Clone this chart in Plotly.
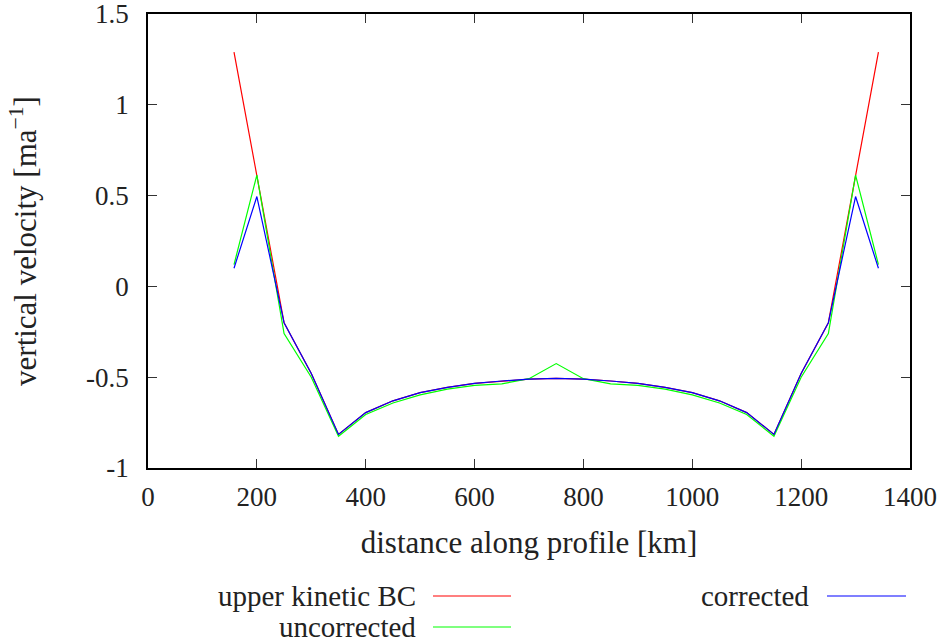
import plotly.graph_objects as go

# ---- data ----
distance_km = [158, 200, 250, 300, 350, 400, 450, 500, 550, 600, 650, 700, 750,
               800, 850, 900, 950, 1000, 1050, 1100, 1150, 1200, 1250, 1300, 1342]
upper_kinetic_bc = [1.29, 0.60, -0.20, -0.48, -0.815, -0.695, -0.63, -0.585, -0.556, -0.534, -0.521, -0.511, -0.507,
                    -0.511, -0.521, -0.534, -0.556, -0.585, -0.63, -0.695, -0.815, -0.48, -0.20, 0.60, 1.29]
uncorrected = [0.12, 0.613, -0.26, -0.50, -0.825, -0.705, -0.642, -0.597, -0.566, -0.545, -0.537, -0.508, -0.425,
               -0.508, -0.537, -0.545, -0.566, -0.597, -0.642, -0.705, -0.825, -0.50, -0.26, 0.613, 0.12]
corrected = [0.10, 0.495, -0.20, -0.48, -0.815, -0.695, -0.63, -0.585, -0.556, -0.534, -0.521, -0.511, -0.507,
             -0.511, -0.521, -0.534, -0.556, -0.585, -0.63, -0.695, -0.815, -0.48, -0.20, 0.495, 0.10]

x_ticks = [0, 200, 400, 600, 800, 1000, 1200, 1400]
x_tick_labels = ["0", "200", "400", "600", "800", "1000", "1200", "1400"]
y_ticks = [-1, -0.5, 0, 0.5, 1, 1.5]
y_tick_labels = ["-1", "-0.5", "0", "0.5", "1", "1.5"]

series = [
    ("upper kinetic BC", upper_kinetic_bc, "#ff0000"),
    ("uncorrected", uncorrected, "#00ff00"),
    ("corrected", corrected, "#0000ff"),
]

FONT = "Liberation Serif, DejaVu Serif, serif"
FS_TICK = 27
FS_TEXT = 31
FS_LEG = 29
TXT = "#222"

fig = go.Figure()
for name, vals, col in series:
    fig.add_trace(go.Scatter(x=distance_km, y=vals, mode="lines", name=name,
                             line=dict(color=col, width=1.2), showlegend=False))

axis_common = dict(showgrid=False, zeroline=False, showline=True, linecolor="black", linewidth=1.5,
                   mirror="allticks", ticks="inside", ticklen=9, tickwidth=1.2, tickcolor="#333",
                   tickfont=dict(family=FONT, size=FS_TICK, color=TXT), ticklabeloverflow="allow")
fig.update_xaxes(range=[0, 1400], tickvals=x_ticks, ticktext=x_tick_labels, ticklabelstandoff=4,
                 title=dict(text="distance along profile [km]", font=dict(family=FONT, size=FS_TEXT, color=TXT), standoff=20),
                 **axis_common)
fig.update_yaxes(range=[-1, 1.5], tickvals=y_ticks, ticktext=y_tick_labels, ticklabelstandoff=12,
                 title=dict(text="vertical velocity [ma<sup>−1</sup>]", font=dict(family=FONT, size=FS_TEXT, color=TXT), standoff=40),
                 **axis_common)

W, H = 946, 644
L, T, R, B = 148, 14, 946 - 910, 644 - 468
pw, ph = W - L - R, H - T - B

def px(x):
    return (x - L) / pw

def py(y):
    return (H - B - y) / ph

legend_items = [
    ("upper kinetic BC", "#ff0000", 417, 433, 511, 596),
    ("uncorrected", "#00ff00", 417, 433, 511, 627),
    ("corrected", "#0000ff", 810, 827, 906, 596),
]
for text, col, tx, x0, x1, yy in legend_items:
    fig.add_annotation(x=px(tx), y=py(yy), xref="paper", yref="paper", text=text, showarrow=False,
                       xanchor="right", yanchor="middle", borderpad=0,
                       font=dict(family=FONT, size=FS_LEG, color=TXT))
    fig.add_shape(type="line", xref="paper", yref="paper", x0=px(x0), x1=px(x1), y0=py(yy), y1=py(yy),
                  line=dict(color=col, width=1.2))

fig.update_layout(width=W, height=H, margin=dict(l=L, r=R, t=T, b=B, autoexpand=False),
                  plot_bgcolor="white", paper_bgcolor="white")
fig.write_html("out.html", config={"displayModeBar": False},
               post_script="document.body.style.margin='0px';document.body.style.overflow='hidden';")
